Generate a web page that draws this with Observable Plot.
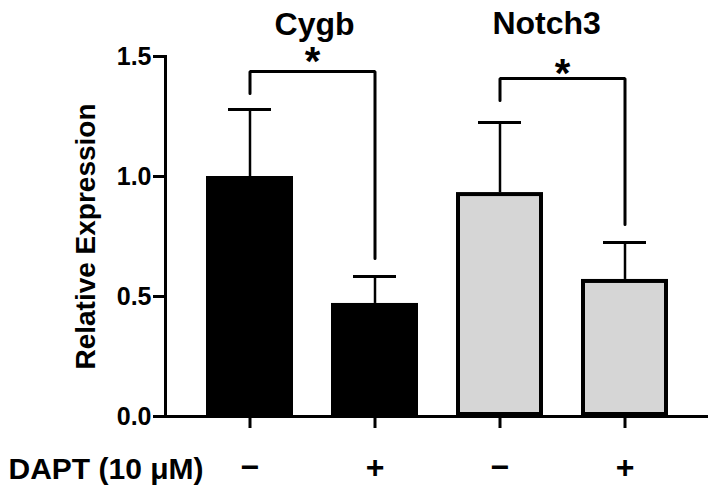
<!DOCTYPE html>
<html>
<head>
<meta charset="utf-8">
<script src="https://cdn.jsdelivr.net/npm/d3@7"></script>
<script src="https://cdn.jsdelivr.net/npm/@observablehq/plot@0.6"></script>
<style>
  html, body { margin: 0; padding: 0; background: #fff; }
</style>
</head>
<body>
<div id="chart"></div>
<script>
// ---- data ----
const genes = ["Cygb", "Cygb", "Notch3", "Notch3"];
const dapt = ["\u2212", "+", "\u2212", "+"];
const means = [1.0, 0.471, 0.933, 0.571];
const errTop = [1.279, 0.583, 1.225, 0.725];
const yTicks = [0, 0.5, 1.0, 1.5];

// significance brackets (one per gene)
const bracketGenes = ["Cygb", "Notch3"];
const bracketTop = [1.4375, 1.408];
const bracketLeftEnd = [1.346, 1.317];
const bracketRightEnd = [0.658, 0.80];
const starTop = [1.54, 1.49];

// ---- tables ----
const keys = genes.map((g, i) => `${g} ${dapt[i]}`);
const bars = keys.map((k, i) => ({key: k, gene: genes[i], sign: dapt[i], mean: means[i], hi: errTop[i]}));
const signOf = new Map(bars.map(d => [d.key, d.sign]));

const bracketPts = [];
const stars = [];
bracketGenes.forEach((g, j) => {
  const left = keys[genes.indexOf(g)];
  const right = keys[genes.lastIndexOf(g)];
  bracketPts.push(
    {g, x: left, y: bracketLeftEnd[j]},
    {g, x: left, y: bracketTop[j]},
    {g, x: right, y: bracketTop[j]},
    {g, x: right, y: bracketRightEnd[j]}
  );
  stars.push({g, x: left, y: starTop[j]});
});

const black = bars.filter(d => d.gene === "Cygb");
const gray = bars.filter(d => d.gene === "Notch3");
const halfStep = 62.6;

const chart = Plot.plot({
  width: 715,
  height: 495,
  marginTop: 56,
  marginBottom: 79,
  marginLeft: 165,
  marginRight: 7,
  style: {fontFamily: "'Liberation Sans', Arial, sans-serif", background: "#fff", color: "#000"},
  x: {domain: keys, type: "band", paddingInner: 0.306, paddingOuter: 0.32},
  y: {domain: [0, 1.5]},
  marks: [
    // error bars (upper only)
    Plot.ruleX(bars, {x: "key", y1: "mean", y2: "hi", stroke: "#000", strokeWidth: 2.5}),
    Plot.tickY(bars, {x: "key", y: "hi", stroke: "#000", strokeWidth: 3, inset: 22}),
    // bars
    Plot.barY(black, {x: "key", y: "mean", fill: "#000"}),
    Plot.barY(gray, {x: "key", y: "mean", fill: "#d6d6d6", stroke: "#000", strokeWidth: 4, inset: 2}),
    // brackets
    Plot.line(bracketPts, {x: "x", y: "y", z: "g", stroke: "#000", strokeWidth: 3, strokeLinejoin: "miter"}),
    Plot.text(stars, {x: "x", y: "y", text: () => "*", dx: halfStep, lineAnchor: "top", fontSize: 40, fontWeight: "bold"}),
    // gene titles
    Plot.text(["Cygb"], {x: () => keys[0], text: d => d, frameAnchor: "top", dy: -44, dx: halfStep + 2, lineAnchor: "top", fontSize: 32, fontWeight: "bold"}),
    Plot.text(["Notch3"], {x: () => keys[2], text: d => d, frameAnchor: "top", dy: -45, dx: halfStep - 16, lineAnchor: "top", fontSize: 32, fontWeight: "bold"}),
    // axes
    Plot.axisY({ticks: yTicks, tickFormat: d3.format(".1f"), tickSize: 12, tickPadding: 2, strokeWidth: 3, fontSize: 25, fontWeight: "bold", label: null}),
    Plot.axisX({tickFormat: k => signOf.get(k), tickSize: 12, tickPadding: 27, strokeWidth: 3, fontSize: 32, fontWeight: "bold", label: null}),
    Plot.frame({anchor: "left", strokeWidth: 3}),
    Plot.ruleY([0], {strokeWidth: 3}),
    // axis titles
    Plot.text(["Relative Expression"], {text: d => d, frameAnchor: "left", dx: -79, rotate: -90, textAnchor: "middle", fontSize: 28, fontWeight: "bold", lineAnchor: "middle"}),
    Plot.text(["DAPT (10 \u03bcM)"], {text: d => d, frameAnchor: "bottom-left", dx: -157, dy: 41, textAnchor: "start", lineAnchor: "top", fontSize: 30, fontWeight: "bold"})
  ]
});
document.getElementById("chart").appendChild(chart);
</script>
</body>
</html>
